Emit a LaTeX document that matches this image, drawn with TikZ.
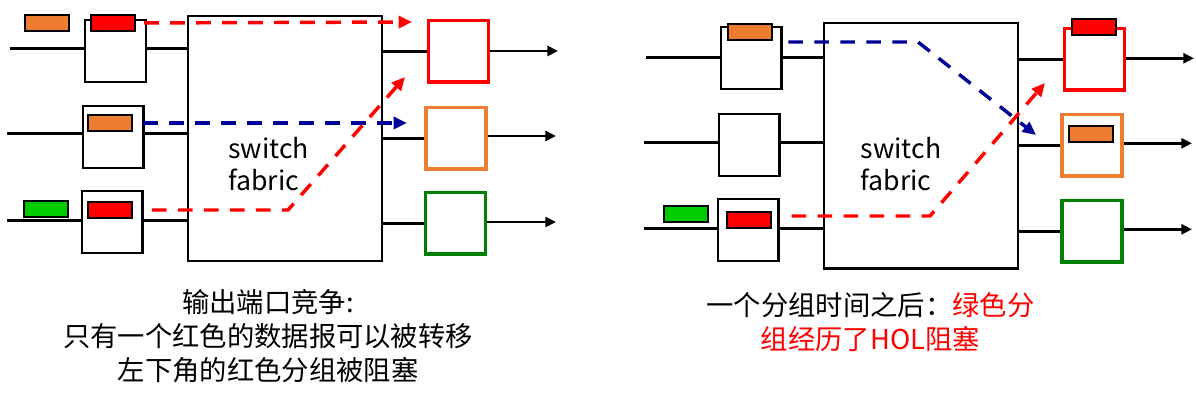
\documentclass[tikz,border=0pt]{standalone}
\usepackage{fontspec}
\setmainfont{Noto Sans CJK SC}
\usetikzlibrary{arrows.meta}
\definecolor{pktred}{RGB}{255,0,0}
\definecolor{pktorange}{RGB}{237,125,49}
\definecolor{pktgreen}{RGB}{0,204,0}
\definecolor{boxgreen}{RGB}{0,128,0}
\definecolor{flowblue}{RGB}{0,0,153}

\begin{document}
\begin{tikzpicture}[x=0.75pt,y=-0.75pt,
  inbox/.style={draw,line width=1.75pt,minimum width=45.5pt,minimum height=46.5pt,inner sep=0pt},
  outbox/.style={draw,line width=2.5pt,minimum width=45pt,minimum height=46pt,inner sep=0pt},
  pkt/.style={draw,line width=1.75pt,minimum width=33pt,minimum height=12pt,inner sep=0pt},
  fabric/.style={draw,line width=1.75pt,minimum width=145.5pt,minimum height=184pt,inner sep=0pt},
  wire/.style={line width=2.25pt},
  outwire/.style={line width=2pt,-{Triangle[length=8pt,width=7.5pt]}},
  flow/.style={line width=2.6pt,dash pattern=on 11pt off 8.5pt,-{Triangle[length=10pt,width=9pt]}},
  redflow/.style={flow,pktred},
  blueflow/.style={flow,flowblue},
  fabtext/.style={align=left,font=\fontsize{20pt}{23.6pt}\selectfont},
  caption/.style={align=center,font=\fontsize{20.5pt}{25.5pt}\selectfont}]
  \useasboundingbox (0,0) rectangle (1196,402);

  % ---------- left: output port contention ----------
  % input ports
  \node[inbox] (lin1) at (115.5,51) {};
  \node[inbox] (lin2) at (113.3,136.8) {};
  \node[inbox] (lin3) at (112.3,221.8) {};
  \node[pkt,fill=pktorange] (la) at (47,23) {};
  \node[pkt,fill=pktred] (lb) at (113,23) {};
  \node[pkt,fill=pktorange] (lc) at (110,123) {};
  \node[pkt,fill=pktred] (ld) at (110,210) {};
  \node[pkt,fill=pktgreen] (le) at (46,209) {};

  % switch fabric
  \node[fabric] (lfab) at (285,138.5) {};
  \node[fabtext] (lft) at (268.5,164) {switch\\fabric};

  % output ports
  \node[outbox,pktred] (lout1) at (458.3,51.2) {};
  \node[outbox,pktorange] (lout2) at (456,138.5) {};
  \node[outbox,boxgreen] (lout3) at (455.5,223.5) {};

  % links
  \coordinate (ls1) at (10,49);
  \coordinate (ls2) at (7,134);
  \coordinate (ls3) at (7,221);
  \coordinate (lt1) at (558,51);
  \coordinate (lt2) at (556,136);
  \coordinate (lt3) at (556,222);
  \draw[wire] (ls1) -- (ls1 -| lin1.west);
  \draw[wire] (ls2) -- (ls2 -| lin2.west);
  \draw[wire] (ls3) -- (ls3 -| lin3.west);
  \draw[wire] (lin1.east |- ls1) -- (ls1 -| lfab.west);
  \draw[wire] (lin2.east |- ls2) -- (ls2 -| lfab.west);
  \draw[wire] (lin3.east |- ls3) -- (ls3 -| lfab.west);
  \draw[wire] (lfab.east |- lout1) -- (lout1.west);
  \draw[wire] (lfab.east |- lout2) -- (lout2.west);
  \draw[wire] (lfab.east |- lout3) -- (lout3.west);
  \draw[outwire] (lout1.east |- lt1) -- (lt1);
  \draw[outwire] (lout2.east |- lt2) -- (lt2);
  \draw[outwire] (lout3.east |- lt3) -- (lt3);

  % packet paths through the fabric
  \coordinate (le1) at (412,22);
  \coordinate (le2) at (407,123);
  \coordinate (lb1) at (288,210);
  \coordinate (le3) at (405,77);
  \draw[redflow,shorten <=6pt] (lb.east) -- (le1);
  \draw[blueflow,shorten <=7.5pt] (lc.east) -- (le2);
  \draw[redflow,shorten <=14pt] (ld.east) -- (lb1) -- (le3);

  \node[caption] (lcap) at (268,336) {输出端口竞争:\\只有一个红色的数据报可以被转移\\左下角的红色分组被阻塞};

  % ---------- right: one packet time later ----------
  % input ports
  \node[inbox] (rin1) at (751.3,57.7) {};
  \node[inbox] (rin2) at (749.3,144.7) {};
  \node[inbox] (rin3) at (748.3,229.7) {};
  \node[pkt,fill=pktorange] (ra) at (749.8,32) {};
  \node[pkt,fill=pktred] (rb) at (749,219.7) {};
  \node[pkt,fill=pktgreen] (rc) at (685.8,213.7) {};

  % switch fabric
  \node[fabric] (rfab) at (921.3,145.8) {};
  \node[fabtext] (rft) at (901,164) {switch\\fabric};

  % output ports
  \node[outbox,pktred] (rout1) at (1094.3,59.2) {};
  \node[outbox,pktorange] (rout2) at (1092,145.3) {};
  \node[outbox,boxgreen] (rout3) at (1092,231.3) {};
  \node[pkt,fill=pktred] (rd) at (1093.8,26.8) {};
  \node[pkt,fill=pktorange] (re) at (1090.8,134) {};

  % links
  \coordinate (rs1) at (646,57.3);
  \coordinate (rs2) at (644,142.3);
  \coordinate (rs3) at (644,228.3);
  \coordinate (rt1) at (1194,58.3);
  \coordinate (rt2) at (1192,143.3);
  \coordinate (rt3) at (1192,229.3);
  \draw[wire] (rs1) -- (rs1 -| rin1.west);
  \draw[wire] (rs2) -- (rs2 -| rin2.west);
  \draw[wire] (rs3) -- (rs3 -| rin3.west);
  \draw[wire] (rin1.east |- rs1) -- (rs1 -| rfab.west);
  \draw[wire] (rin2.east |- rs2) -- (rs2 -| rfab.west);
  \draw[wire] (rin3.east |- rs3) -- (rs3 -| rfab.west);
  \draw[wire] (rfab.east |- rout1) -- (rout1.west);
  \draw[wire] (rfab.east |- rout2) -- (rout2.west);
  \draw[wire] (rfab.east |- rout3) -- (rout3.west);
  \draw[outwire] (rout1.east |- rt1) -- (rt1);
  \draw[outwire] (rout2.east |- rt2) -- (rt2);
  \draw[outwire] (rout3.east |- rt3) -- (rt3);

  % packet paths through the fabric
  \coordinate (rb1) at (918,42);
  \coordinate (re1) at (1036,135);
  \coordinate (rb2) at (930,216);
  \coordinate (re2) at (1045,83);
  \draw[blueflow,shorten <=11.5pt] (ra.south east |- rb1) -- (rb1) -- (re1);
  \draw[redflow,shorten <=14.5pt] (rb.east |- rb2) -- (rb2) -- (re2);

  \node[caption] (rcap) at (870.5,322.5) {一个分组时间之后：\textcolor{pktred}{绿色分}\\\textcolor{pktred}{组经历了HOL阻塞}};
\end{tikzpicture}
\end{document}
